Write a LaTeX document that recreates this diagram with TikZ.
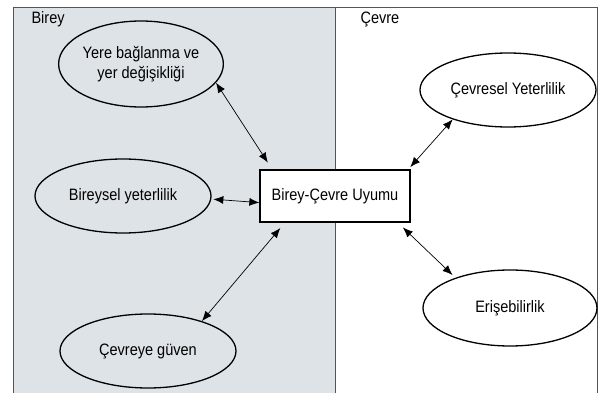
\documentclass[tikz,border=0pt]{standalone}
\usepackage{fontspec}
\setmainfont{Liberation Sans}[FakeStretch=0.88]
\usetikzlibrary{shapes.geometric,arrows.meta}
\definecolor{bireygri}{RGB}{222,227,232}
\definecolor{cerceve}{RGB}{85,85,85}

\begin{document}
\begin{tikzpicture}[x=1pt,y=-1pt,
    oval/.style={draw, ellipse, line width=1.3pt, inner sep=0pt, align=center,
      font=\fontsize{16.5}{20}\selectfont},
    uyumkutu/.style={draw, fill=white, line width=1.3pt, minimum width=150pt,
      minimum height=52pt, font=\fontsize{16.5}{19}\selectfont},
    alan/.style={anchor=west, font=\fontsize{16.5}{19}\selectfont},
    bag/.style={{Latex[length=10pt,width=8pt]}-{Latex[length=10pt,width=8pt]}, line width=0.7pt}]
  \useasboundingbox (0,0) rectangle (598,393);

  % iki alan
  \fill[bireygri] (13,7) rectangle (335,393);
  \draw[cerceve, line width=0.9pt] (13,393) -- (13,7) -- (597,7) -- (597,393);
  \draw[cerceve, line width=0.9pt] (335,7) -- (335,393);
  \node[alan] (birey) at (28,19) {Birey};
  \node[alan] (cevre) at (357,19) {Çevre};

  % kavramlar
  \node[uyumkutu] (uyum) at (335,196) {Birey-Çevre Uyumu};
  \node[oval, minimum width=158pt, minimum height=86pt] (yere) at (141,64) {Yere bağlanma ve\\yer değişikliği};
  \node[oval, minimum width=176pt, minimum height=74pt] (bireysel) at (123,196) {Bireysel yeterlilik};
  \node[oval, minimum width=176pt, minimum height=74pt] (guven) at (148,351) {Çevreye güven};
  \node[oval, minimum width=176pt, minimum height=74pt] (cevresel) at (508,90) {Çevresel Yeterlilik};
  \node[oval, minimum width=174pt, minimum height=76pt] (eris) at (510,308) {Erişebilirlik};

  % oklar
  \draw[bag, shorten >=8pt] (yere.-14) -- (uyum.157);
  \draw[bag, shorten <=2pt] (bireysel.-2) -- (uyum.-175);
  \draw[bag, shorten >=7pt] (guven.29) -- (uyum.208);
  \draw[bag, shorten >=3pt] (cevresel.208) -- (uyum.20);
  \draw[bag, shorten <=7pt, shorten >=4pt] (uyum.-23) -- (eris.151);
\end{tikzpicture}
\end{document}
